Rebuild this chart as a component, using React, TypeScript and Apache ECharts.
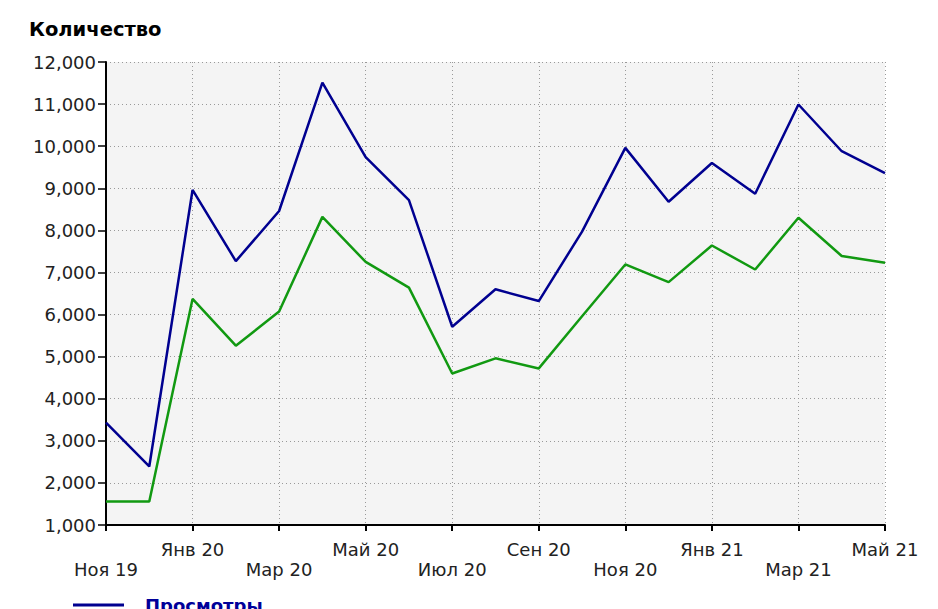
import React, { useEffect, useRef } from "react";
import * as echarts from "echarts";

const months = [
  "Ноя 19", "Дек 19", "Янв 20", "Фев 20", "Мар 20", "Апр 20", "Май 20",
  "Июн 20", "Июл 20", "Авг 20", "Сен 20", "Окт 20", "Ноя 20", "Дек 20",
  "Янв 21", "Фев 21", "Мар 21", "Апр 21", "Май 21",
];
const views = [3430, 2390, 8960, 7270, 8460, 11510, 9740, 8720, 5710, 6600, 6320, 7970, 9960, 8680, 9600, 8870, 10990, 9880, 9360];
const visitors = [1560, 1560, 6370, 5260, 6070, 8320, 7250, 6640, 4600, 4960, 4720, 5960, 7190, 6770, 7640, 7070, 8300, 7390, 7230];
const yTitle = "Количество";
const viewsName = "Просмотры";
const visitorsName = "Посетители";

const FONT = "DejaVu Sans";

export default function App() {
  const ref = useRef<HTMLDivElement>(null);
  useEffect(() => {
    document.body.style.margin = "0";
    const chart = echarts.init(ref.current!, null, { renderer: "svg" });
    chart.setOption({
      animation: false,
      backgroundColor: "#ffffff",
      textStyle: { fontFamily: FONT },
      title: {
        text: yTitle,
        left: 29,
        top: 19,
        padding: 0,
        textStyle: { fontFamily: FONT, fontSize: 19.5, fontWeight: "bold", color: "#000" },
      },
      legend: {
        data: [viewsName],
        left: 73,
        top: 596,
        padding: 0,
        icon: "rect",
        itemWidth: 51,
        itemHeight: 3,
        textStyle: {
          fontFamily: FONT,
          fontSize: 18,
          fontWeight: "bold",
          color: "#000099",
          padding: [0, 0, 0, 16],
        },
      },
      grid: {
        left: 106,
        top: 62,
        right: 53,
        bottom: 84,
        show: true,
        backgroundColor: "#f4f4f4",
        borderWidth: 0,
        containLabel: false,
      },
      xAxis: {
        type: "category",
        data: months,
        boundaryGap: false,
        axisLine: { lineStyle: { color: "#000", width: 2 } },
        axisTick: { interval: 1, length: 6, lineStyle: { color: "#000", width: 2 } },
        splitLine: {
          show: true,
          interval: 1,
          lineStyle: { color: "#999", width: 1, type: [1, 3] },
        },
        axisLabel: {
          interval: 1,
          margin: 14,
          fontFamily: FONT,
          fontSize: 18,
          lineHeight: 20,
          color: "#222",
          verticalAlign: "top",
          formatter: (v: string, i: number) => (i % 4 === 0 ? "\n" + v : v + "\n"),
        },
      },
      yAxis: {
        type: "value",
        min: 1000,
        max: 12000,
        interval: 1000,
        axisLine: { show: true, lineStyle: { color: "#000", width: 2 } },
        axisTick: { show: true, length: 8, lineStyle: { color: "#000", width: 1.5 } },
        splitLine: {
          show: true,
          lineStyle: { color: "#999", width: 1, type: [1, 3] },
        },
        axisLabel: {
          margin: 10,
          fontFamily: FONT,
          fontSize: 18,
          color: "#222",
          formatter: (v: number) => v.toLocaleString("en-US"),
        },
      },
      series: [
        {
          name: viewsName,
          type: "line",
          data: views,
          symbol: "none",
          lineStyle: { color: "#000090", width: 2.5 },
          itemStyle: { color: "#000090" },
        },
        {
          name: visitorsName,
          type: "line",
          data: visitors,
          symbol: "none",
          lineStyle: { color: "#119911", width: 2.5 },
          itemStyle: { color: "#119911" },
        },
      ],
    });
    return () => chart.dispose();
  }, []);
  return <div ref={ref} style={{ width: 938, height: 609 }} />;
}
